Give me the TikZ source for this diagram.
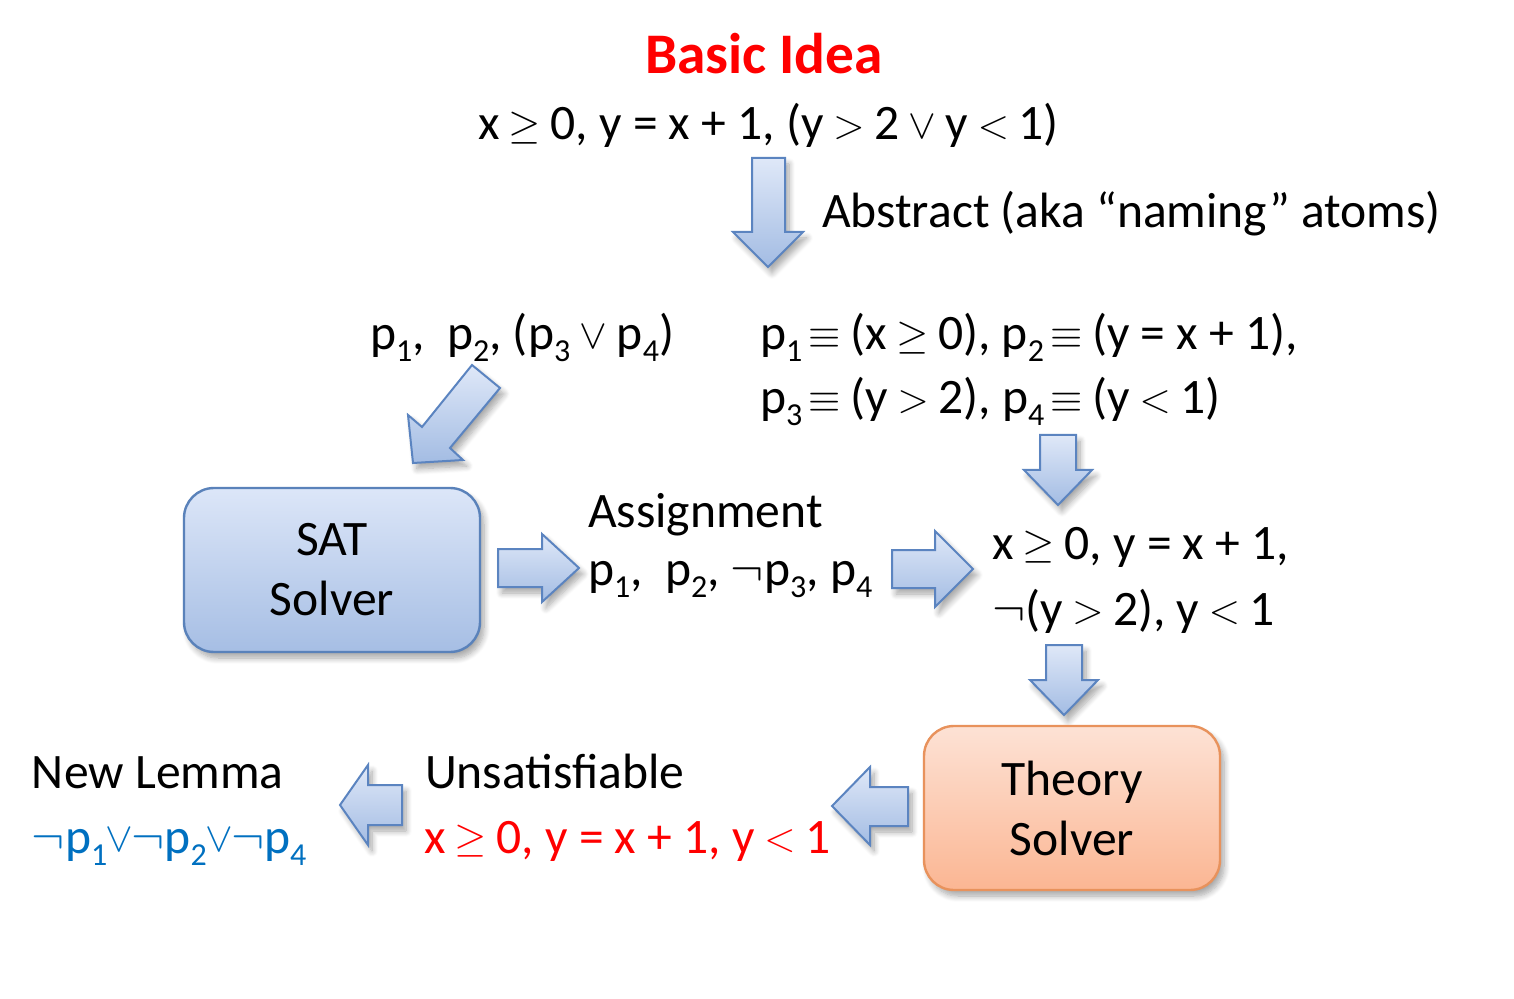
\documentclass[tikz,border=0pt]{standalone}
\usepackage{fontspec}
\setmainfont{Carlito}
\usetikzlibrary{shadows.blur}

\definecolor{arrtop}{HTML}{DFE8F8}
\definecolor{arrbot}{HTML}{A3BCE3}
\definecolor{arredge}{HTML}{5B84C0}
\definecolor{sattop}{HTML}{DCE6F8}
\definecolor{satbot}{HTML}{A6BEE4}
\definecolor{satedge}{HTML}{5A82BA}
\definecolor{thtop}{HTML}{FDE2D5}
\definecolor{thbot}{HTML}{FBB693}
\definecolor{thedge}{HTML}{E8925C}
\definecolor{lemmablue}{HTML}{0070C0}
\definecolor{hotred}{HTML}{FF0000}

% lowered index digit
\newcommand\ix[1]{\raisebox{-6pt}{\fontsize{16}{16}\selectfont #1}}
% relation / connective symbol, set a little smaller, tight and lifted to the text axis
\newcommand\sy[2][21]{\kern-0.9pt\raisebox{0.8pt}{\fontsize{#1}{#1}\selectfont$#2$}\kern-0.9pt}
\newcommand\Ge{\sy{\geq}}
\newcommand\Gt{\sy{>}}
\newcommand\Lt{\sy{<}}
\newcommand\Eqv{\,\sy[21]{\equiv}}
\newcommand\Or{\sy[22]{\vee}}
\newcommand\Nt{$\neg$}

\begin{document}
\begin{tikzpicture}[x=0.5pt,y=-0.5pt,
  every node/.style={inner sep=0pt, outer sep=0pt,
    font=\fontsize{24.8}{30}\selectfont},
  txt/.style={anchor=base west},
  % multi-line text: placed by the baseline of its last line
  lines/.style={anchor=base west, align=left,
    font=\fontsize{24.8}{#1}\selectfont},
  softshadow/.style={blur shadow={shadow xshift=2pt, shadow yshift=-3pt,
      shadow blur steps=8, shadow blur radius=3pt, shadow opacity=35}},
  blockarrow/.style={draw=arredge, line width=1pt, line join=miter,
      top color=arrtop, bottom color=arrbot, softshadow},
  solverbox/.style={rounded corners=15pt, line width=1.2pt, align=center,
      minimum width=148pt, minimum height=82pt, softshadow},
  satbox/.style={solverbox, draw=satedge, top color=sattop, bottom color=satbot},
  thbox/.style={solverbox, draw=thedge, top color=thtop, bottom color=thbot}]

\useasboundingbox (0,0) rectangle (1514,999);

% title and original formula
\node[anchor=base, font=\fontsize{28.7}{32}\selectfont\bfseries, text=hotred]
  (title) at (764,74) {Basic Idea};
\node[txt] (formula) at (478,140)
  {x \Ge{} 0, y = x + 1, (y \Gt{} 2 \Or{} y \Lt{} 1)};

% abstraction step
\path[blockarrow] (752,158) -- (785,158) -- (785,232) -- (803,232) -- (768,267)
  -- (733,232) -- (752,232) -- cycle;
\node[txt] (abstract) at (822,228) {Abstract (aka “naming” atoms)};

% boolean skeleton and atom definitions
\node[txt] (skeleton) at (370,350)
  {p\ix{1},\ \ p\ix{2}, (p\ix{3} \Or{} p\ix{4})};
\node[lines=32pt] (defs) at (760,414)
  {p\ix{1}\Eqv{} (x \Ge{} 0), p\ix{2}\Eqv{} (y = x + 1),\\
   p\ix{3}\Eqv{} (y \Gt{} 2), p\ix{4}\Eqv{} (y \Lt{} 1)};

% skeleton into the SAT solver
\path[blockarrow] (472,365) -- (500,388) -- (450,448) -- (463,460) -- (413,463)
  -- (408,415) -- (422,427) -- cycle;

% SAT solver
\node[satbox] (sat) at (332,570) {SAT\\Solver};

% assignment
\path[blockarrow] (498,549) -- (542,549) -- (542,534) -- (579,568) -- (542,602)
  -- (542,587) -- (498,587) -- cycle;
\node[lines=28.5pt] (assign) at (588,585)
  {Assignment\\
   p\ix{1},\ \ p\ix{2}, \Nt p\ix{3}, p\ix{4}};

\path[blockarrow] (892,550) -- (935,550) -- (935,531) -- (973,569) -- (935,607)
  -- (935,588) -- (892,588) -- cycle;

% definitions feeding the theory literals
\path[blockarrow] (1040,435) -- (1076,435) -- (1076,470) -- (1092,470) -- (1058,505)
  -- (1024,470) -- (1040,470) -- cycle;

\node[lines=33pt] (lits) at (992,625)
  {x \Ge{} 0, y = x + 1,\\
   \Nt(y \Gt{} 2), y \Lt{} 1};

\path[blockarrow] (1046,645) -- (1082,645) -- (1082,680) -- (1098,680) -- (1064,715)
  -- (1030,680) -- (1046,680) -- cycle;

% theory solver
\node[thbox] (theory) at (1072,808) {Theory\\Solver};

% unsatisfiable core
\path[blockarrow] (908,787) -- (870,787) -- (870,767) -- (832,806) -- (870,845)
  -- (870,826) -- (908,826) -- cycle;
\node[txt] (unsatlbl) at (425,788) {Unsatisfiable};
\node[txt, text=hotred] (core) at (424,853) {x \Ge{} 0, y = x + 1, y \Lt{} 1};

% learned lemma
\path[blockarrow] (402,785) -- (368,785) -- (368,765) -- (340,805) -- (368,845)
  -- (368,825) -- (402,825) -- cycle;
\node[txt] (lemmalbl) at (32,788) {New Lemma};
\node[txt, text=lemmablue] (lemma) at (32,853)
  {\Nt p\ix{1}\Or\Nt p\ix{2}\Or\Nt p\ix{4}};

\end{tikzpicture}
\end{document}
